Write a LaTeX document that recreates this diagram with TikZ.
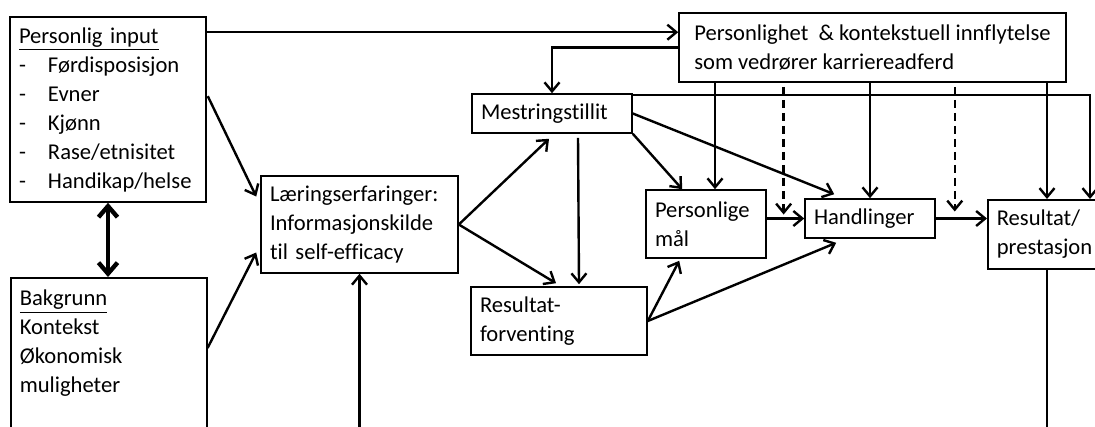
\documentclass[tikz,border=0pt]{standalone}
\usepackage{fontspec}
\setmainfont[Ligatures=NoCommon]{Carlito}
\usetikzlibrary{arrows.meta, calc}
\tikzset{
  sc box/.style={
    rectangle, draw=black, line width=0.8pt, fill=white,
    align=left, inner xsep=4.5pt, inner ysep=2pt,
    font=\fontsize{11.3}{14.5}\selectfont
  },
  sc arrow/.style={
    -{Straight Barb[length=4.5pt,width=7.5pt]}, line width=1.2pt, draw=black
  },
  sc dashed/.style={
    sc arrow, dash pattern=on 4pt off 2.5pt
  },
  sc double/.style={
    {Straight Barb[length=5.5pt,width=9.5pt]}-{Straight Barb[length=5.5pt,width=9.5pt]},
    line width=2.2pt, draw=black
  }
}
\newcommand{\scitem}[1]{\makebox[14.5pt][l]{-}#1}

\begin{document}
\begin{tikzpicture}[x=0.5pt, y=-0.5pt]
\useasboundingbox (0,0) rectangle (1095,427);
\clip (0,0) rectangle (1095,427);

% ====== INPUT ======
\node[sc box, text width=89pt, minimum height=92.5pt] (pin) at (108,109.5)
  {\underline{Personlig input}\\\scitem{Førdisposisjon}\\\scitem{Evner}\\
   \scitem{Kjønn}\\\scitem{Rase/etnisitet}\\\scitem{Handikap/helse}};
\node[sc box, anchor=north west, inner ysep=6pt] (bak) at (10,277)
  {\parbox[t][110pt][t]{89pt}{\underline{Bakgrunn}\\Kontekst\\Økonomisk\\muligheter}};
\node[sc box, text width=89.5pt, minimum height=48.5pt] (lr) at (359.5,224.5)
  {Læringserfaringer:\\Informasjonskilde\\til self-efficacy};

% ====== COGNITION ======
\node[sc box, text width=71pt, minimum height=19.5pt] (mt) at (552,113.5) {Mestringstillit};
\node[sc box, text width=79pt, minimum height=34pt] (rf) at (559,321) {Resultat-\\forventing};
\node[sc box, text width=51pt, minimum height=34pt] (mal) at (706,224) {Personlige\\mål};
\node[sc box, text width=56pt, minimum height=19.5pt] (hand) at (870,218.5) {Handlinger};
\node[sc box, anchor=north west, text width=61pt, minimum height=34.5pt] (res) at (987,199)
  {Resultat/\\prestasjon};

% ====== CONTEXT ======
\node[sc box, minimum width=193.5pt, minimum height=34.5pt] (pk) at (872.5,47.5)
  {Personlighet~ \& kontekstuell innflytelse\\som vedrører karriereadferd};

% -- helper points --
\coordinate (m1) at ($(mal.north)+(9,0)$);
\coordinate (r1) at ($(res.north west)+(60,0)$);
\coordinate (d1) at ($(mal.east |- hand.west)!0.45!(hand.west)+(0,-4)$);
\coordinate (d2) at ($(hand.east)!0.37!(hand.east -| res.west)+(0,-7)$);

% -- input arrows --
\draw[sc double] (pin.south) -- (bak.north -| pin.south);
\draw[sc arrow] ($(pin.north east)+(0,16)$) coordinate (a) -- (a -| pk.west);
\draw[sc arrow] ($(pin.north east)+(1,80)$) -- ($(lr.west)+(-4,-28)$);
\draw[sc arrow] ($(bak.north east)+(0,71)$) -- ($(lr.west)+(-4,28)$);
\draw[sc arrow] ($(lr.south)+(0,160)$) -- (lr.south);

% -- learning to cognition --
\draw[sc arrow] (lr.east) -- ($(mt.south)+(-3,5)$);
\draw[sc arrow] (lr.east) -- ($(rf.north)+(-3,-3)$);
\draw[sc arrow] ($(mt.south)+(26,4)$) -- ($(rf.north)+(20,-2)$);
\draw[sc arrow] (mt.south east) -- ($(mal.north west)+(37,0)$);
\draw[sc arrow] (mt.east) -- ($(hand.north west)+(30,-4)$);
\draw[sc arrow] (rf.east) -- ($(mal.south west)+(34,2)$);
\draw[sc arrow] (rf.east) -- ($(hand.south west)+(32,4)$);
\draw[sc arrow] (mal.east |- hand.west) -- (hand.west);
\draw[sc arrow] (hand.east) -- (hand.east -| res.west);
\draw[sc arrow] ($(mt.north east)+(0,2)$) -| ($(res.north west)+(103,0)$);

% -- context influence --
\draw[sc arrow] (pk.west) -| (mt.north);
\draw[sc arrow] (pk.south -| m1) -- (m1);
\draw[sc arrow] (pk.south -| hand.north) -- (hand.north);
\draw[sc arrow] (pk.south -| r1) -- (r1);
\draw[sc dashed] ($(pk.south -| d1)+(0,4)$) -- (d1);
\draw[sc dashed] ($(pk.south -| d2)+(0,4)$) -- (d2);
\draw[line width=1.2pt] (res.south -| r1) -- ++(0,170);

\end{tikzpicture}
\end{document}
